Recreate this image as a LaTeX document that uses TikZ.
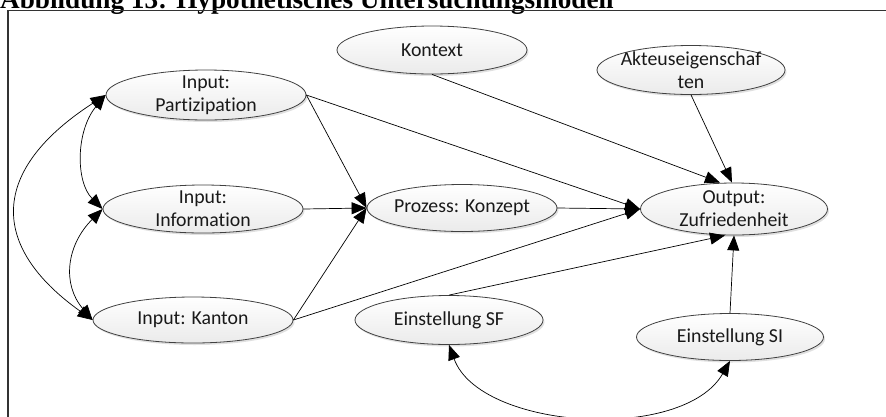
\documentclass[tikz,border=0pt]{standalone}
\usepackage{fontspec}
\setmainfont{Carlito}[Ligatures=NoCommon]
\newfontfamily\titlefont{Liberation Serif}
\usetikzlibrary{arrows.meta,shapes.geometric,shadows}
\begin{document}
\begin{tikzpicture}[x=1pt,y=-1pt,
  ell/.style={ellipse, draw=black!75, line width=0.8pt, top color=white, bottom color=black!8,
    inner sep=0pt, drop shadow={shadow xshift=1.5pt, shadow yshift=-2pt, opacity=0.3, fill=black!40}},
  lbl/.style={font=\fontsize{19.8}{23}\selectfont, align=center, text=black!90, inner sep=0pt},
  tip/.tip={Triangle[length=15pt,width=12pt]},
  link/.style={line width=0.7pt, -tip},
  both/.style={line width=0.7pt, tip-tip},
]
\useasboundingbox (0,0) rectangle (886,416);
\clip (0,0) rectangle (886,416);

% caption and frame
\node[anchor=base west, inner sep=0pt, font=\titlefont\bfseries\fontsize{27.2}{30}\selectfont] (title) at (0,8)
  {Abbildung 13: Hypothetisches Untersuchungsmodell};
\draw[line width=1.3pt, black!80] (8,440) -- (8,10.5) -- (900,10.5);

% variables
\node[ell, minimum width=200pt, minimum height=50pt] (P)  at (206,95)  {};
\node[ell, minimum width=200pt, minimum height=48pt] (I)  at (203,209) {};
\node[ell, minimum width=200pt, minimum height=46pt] (K)  at (193,320) {};
\node[ell, minimum width=190pt, minimum height=47pt] (C)  at (462,208) {};
\node[ell, minimum width=187pt, minimum height=52pt] (O)  at (734,209) {};
\node[ell, minimum width=188pt, minimum height=49pt] (SF) at (449,320) {};
\node[ell, minimum width=187pt, minimum height=47pt] (SI) at (730,337) {};
\node[ell, minimum width=190pt, minimum height=48pt] (Kt) at (432,50)  {};
\node[ell, minimum width=188pt, minimum height=49pt] (A)  at (691,70)  {};

\node[lbl] (Pl)  at (P)  {Input:\\Partizipation};
\node[lbl] (Il)  at (I)  {Input:\\Information};
\node[lbl] (Kl)  at (K)  {Input: Kanton};
\node[lbl] (Cl)  at (C)  {Prozess: Konzept};
\node[lbl] (Ol)  at (O)  {Output:\\Zufriedenheit};
\node[lbl] (SFl) at (SF) {Einstellung SF};
\node[lbl] (SIl) at (SI) {Einstellung SI};
\node[lbl] (Ktl) at (Kt) {Kontext};
\node[lbl] (Al)  at (A)  {Akteuseigenschaf\\ten};

% directed effects
\draw[link] (P.east) -- (C.west);
\draw[link] (P.east) -- (O.west);
\draw[link] (I.east) -- (C.west);
\draw[link] (K.east) -- (C.west);
\draw[link] (K.east) -- (O.west);
\draw[link] (C.east) -- (O.west);
\draw[link] (Kt.south) -- ([xshift=-14pt]O.north);
\draw[link] (A.south) -- ([xshift=-2pt]O.north);
\draw[link] (SF.north) -- ([xshift=-9pt]O.south);
\draw[link] (SI.north) -- (O.south);

% correlations
\draw[both] (P.west) .. controls +(-30,36) and +(-27,-27) .. (I.west);
\draw[both] (I.west) .. controls +(-36,36) and +(-31,-36) .. (K.west);
\draw[both] (P.west) .. controls +(-116,75) and +(-104,-74) .. (K.west);
\draw[both] (SF.south) .. controls +(31,85) and +(-47,82) .. (SI.south);
\end{tikzpicture}
\end{document}
